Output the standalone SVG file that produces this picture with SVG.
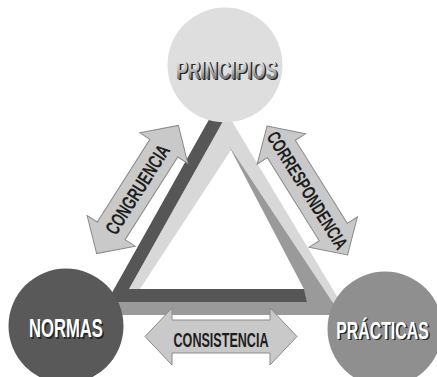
<svg xmlns="http://www.w3.org/2000/svg" width="437" height="377" viewBox="0 0 437 377">
  <defs>
    <path id="dblArrow" d="M -76,0 L -49,-28.5 L -49,-16.5 L 49,-16.5 L 49,-28.5 L 76,0 L 49,28.5 L 49,16.5 L -49,16.5 L -49,28.5 Z"/>
    <linearGradient id="gPrin" x1="0" y1="0" x2="0" y2="1">
      <stop offset="0" stop-color="#ffffff"/>
      <stop offset="0.5" stop-color="#bdbdbd"/>
      <stop offset="1" stop-color="#4a4a4a"/>
    </linearGradient>
  </defs>
  <style>
    .arrow { fill: #c9c9c9; stroke: #8a8a8a; stroke-width: 1; }
    .alabel { font-family: "Liberation Sans", "DejaVu Sans", sans-serif; font-weight: bold; fill: #1e1e1e; text-anchor: middle; }
    .nlabel { font-family: "Liberation Sans", "DejaVu Sans", sans-serif; font-weight: bold; text-anchor: middle; }
    .shadow { fill: #262626; }
    .white { fill: #ffffff; }
  </style>
  <rect width="437" height="377" fill="#ffffff"/>

  <g id="connectors">
    <g id="triangle">
      <polygon points="227.3,113.5 348.8,316 121.8,302" fill="#d8d8d8"/>
      <polygon points="231,150 140,289 304,289" fill="#ffffff"/>
      <polygon points="229,146 341,315 90,315 90,302 307,302 304,289" fill="#9a9a9a"/>
      <polygon points="222.7,95 237.7,95 129,289 304,289 307,302 106.8,302" fill="#565656"/>
    </g>
  </g>

  <g id="node-principios">
    <circle cx="225" cy="65" r="57.5" fill="#dedede"/>
    <text class="nlabel shadow" transform="translate(228,80) scale(0.674,1)" font-size="26">PRINCIPIOS</text>
    <text class="nlabel" transform="translate(226.5,78.5) scale(0.674,1)" font-size="26" fill="url(#gPrin)">PRINCIPIOS</text>
  </g>
  <g id="node-normas">
    <circle cx="66" cy="326" r="57.5" fill="#595959"/>
    <text class="nlabel shadow" transform="translate(67.5,338.5) scale(0.64,1)" font-size="26">NORMAS</text>
    <text class="nlabel white" transform="translate(66,337) scale(0.64,1)" font-size="26">NORMAS</text>
  </g>
  <g id="node-practicas">
    <circle cx="385" cy="329" r="57.5" fill="#8f8f8f"/>
    <text class="nlabel shadow" transform="translate(384,340) scale(0.69,1)" font-size="23">PRÁCTICAS</text>
    <text class="nlabel white" transform="translate(382.5,338.5) scale(0.69,1)" font-size="23">PRÁCTICAS</text>
  </g>

  <g id="arrow-congruencia" transform="translate(137.5,189.5) rotate(-57.5)">
    <use href="#dblArrow" class="arrow"/>
    <text class="alabel" transform="translate(0,7) scale(0.677,1)" font-size="20">CONGRUENCIA</text>
  </g>
  <g id="arrow-correspondencia" transform="translate(307.3,190.5) rotate(58)">
    <use href="#dblArrow" class="arrow"/>
    <text class="alabel" transform="translate(0,6.5) scale(0.69,1)" font-size="19">CORRESPONDENCIA</text>
  </g>
  <g id="arrow-consistencia" transform="translate(221,336.5)">
    <use href="#dblArrow" class="arrow"/>
    <text class="alabel" transform="translate(0,10.5) scale(0.629,1)" font-size="20">CONSISTENCIA</text>
  </g>
</svg>
